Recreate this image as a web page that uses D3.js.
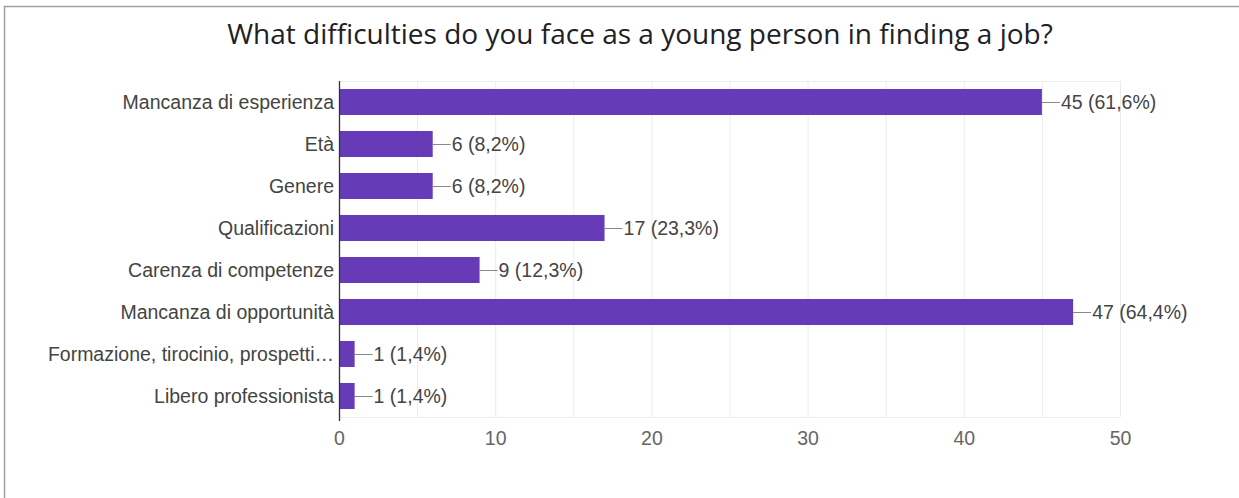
<!DOCTYPE html>
<html>
<head>
<meta charset="utf-8">
<script src="https://cdn.jsdelivr.net/npm/d3@7"></script>
<style>
  html, body { margin: 0; padding: 0; background: #fff; }
  svg { display: block; }
</style>
</head>
<body>
<svg id="chart" width="1239" height="498"></svg>
<script>
// Survey answers and response counts
const categories = [
  "Mancanza di esperienza",
  "Età",
  "Genere",
  "Qualificazioni",
  "Carenza di competenze",
  "Mancanza di opportunità",
  "Formazione, tirocinio, prospetti…",
  "Libero professionista"
];
const counts = [45, 6, 6, 17, 9, 47, 1, 1];
const percents = ["61,6%", "8,2%", "8,2%", "23,3%", "12,3%", "64,4%", "1,4%", "1,4%"];
const tickValues = [0, 10, 20, 30, 40, 50];
const gridValues = [5, 10, 15, 20, 25, 30, 35, 40, 45, 50];
const title = "What difficulties do you face as a young person in finding a job?";

const svg = d3.select("#chart");
const W = 1239, H = 498;
const plot = { left: 339, right: 1120, top: 81, bottom: 417 };
const FONT = "'Liberation Sans', Arial, sans-serif";

// Card outline
svg.append("rect")
  .attr("x", 4.5).attr("y", 6.5)
  .attr("width", W + 20).attr("height", H + 20)
  .attr("fill", "#fff")
  .attr("stroke", "#9e9e9e").attr("stroke-width", 1.5);

svg.append("text")
  .attr("x", 640).attr("y", 44)
  .attr("text-anchor", "middle")
  .attr("font-family", "'Open Sans', 'Noto Sans', sans-serif")
  .attr("font-size", 28)
  .attr("fill", "#202124")
  .text(title);

const x = d3.scaleLinear().domain([0, 50]).range([plot.left, plot.right]);
const y = d3.scaleBand().domain(categories).range([plot.top, plot.bottom]).paddingInner(0.38).paddingOuter(0.19);

// Grid
svg.append("g").selectAll("line").data(gridValues).join("line")
  .attr("x1", d => x(d) + 0.5).attr("x2", d => x(d) + 0.5)
  .attr("y1", plot.top).attr("y2", plot.bottom)
  .attr("stroke", "#ececec").attr("stroke-width", 1);
svg.append("line")
  .attr("x1", plot.left).attr("x2", plot.right)
  .attr("y1", plot.top + 0.5).attr("y2", plot.top + 0.5)
  .attr("stroke", "#ececec");
svg.append("line")
  .attr("x1", plot.left).attr("x2", plot.right)
  .attr("y1", plot.bottom + 0.5).attr("y2", plot.bottom + 0.5)
  .attr("stroke", "#ececec");

// Bars
svg.append("g").selectAll("rect").data(categories).join("rect")
  .attr("x", x(0))
  .attr("y", d => y(d))
  .attr("width", (d, i) => x(counts[i]) - x(0))
  .attr("height", y.bandwidth())
  .attr("fill", "#673ab7");

// Baseline
svg.append("line")
  .attr("x1", x(0) + 0.5).attr("x2", x(0) + 0.5)
  .attr("y1", plot.top).attr("y2", plot.bottom + 4)
  .attr("stroke", "#333").attr("stroke-width", 1.3);

// Category labels
svg.append("g").selectAll("text").data(categories).join("text")
  .attr("x", plot.left - 5)
  .attr("y", d => y(d) + y.bandwidth() / 2)
  .attr("dy", "0.36em")
  .attr("text-anchor", "end")
  .attr("font-family", FONT)
  .attr("font-size", 19.5)
  .attr("fill", "#444")
  .text(d => d);

// Value annotations with leader lines
const ann = svg.append("g").selectAll("g").data(categories).join("g");
ann.append("line")
  .attr("x1", (d, i) => x(counts[i]))
  .attr("x2", (d, i) => x(counts[i]) + 18)
  .attr("y1", d => y(d) + y.bandwidth() / 2 + 0.5)
  .attr("y2", d => y(d) + y.bandwidth() / 2 + 0.5)
  .attr("stroke", "#888").attr("stroke-width", 1);
ann.append("text")
  .attr("x", (d, i) => x(counts[i]) + 19)
  .attr("y", d => y(d) + y.bandwidth() / 2)
  .attr("dy", "0.36em")
  .attr("font-family", FONT)
  .attr("font-size", 19.5)
  .attr("fill", "#444")
  .text((d, i) => `${counts[i]} (${percents[i]})`);

// X axis tick labels
const axis = svg.append("g")
  .attr("transform", `translate(0,${plot.bottom})`)
  .call(d3.axisBottom(x).tickValues(tickValues).tickSize(0).tickPadding(14).tickFormat(d3.format("d")));
axis.select(".domain").remove();
axis.selectAll("text")
  .attr("font-family", FONT)
  .attr("font-size", 19.5)
  .attr("fill", "#666");
</script>
</body>
</html>
